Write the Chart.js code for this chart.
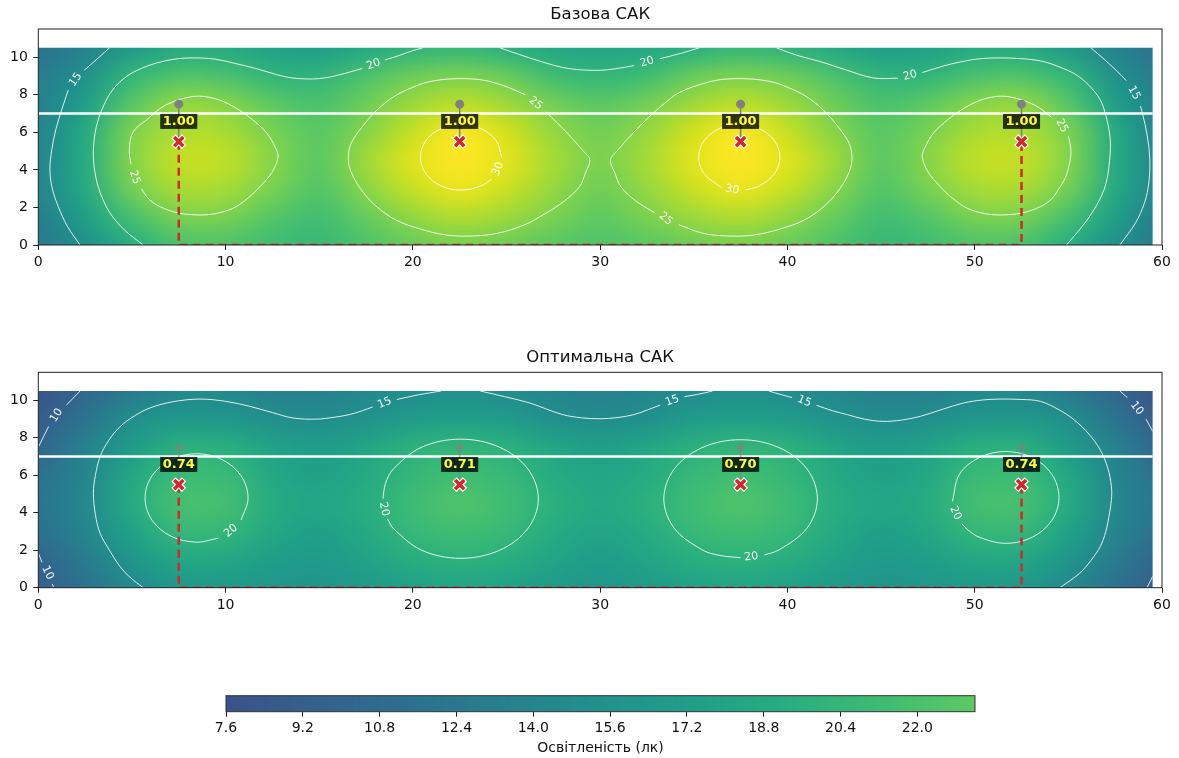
<!DOCTYPE html>
<html>
<head>
<meta charset="utf-8">
<script src="https://cdn.jsdelivr.net/npm/chart.js@4.4.1/dist/chart.umd.min.js"></script>
<style>
html, body { margin: 0; padding: 0; background: #fff; }
#wrap { position: relative; width: 1179px; height: 758px; overflow: hidden; }
canvas { position: absolute; left: 0; }
</style>
</head>
<body>
<div id="wrap">
  <canvas id="baseChart" width="1179" height="300" style="top:0"></canvas>
  <canvas id="optChart" width="1179" height="300" style="top:340px"></canvas>
  <canvas id="cbar" width="1179" height="118" style="top:640px"></canvas>
</div>
<script>
// grid of the illuminance field (lx), rows from top (y=10.5) to bottom (y=0)
var gridX = [0, 2.5, 5, 7.5, 10, 12.5, 15, 17.5, 20, 22.5, 25, 27.5, 30, 32.5, 35, 37.5, 40, 42.5, 45, 47.5, 50, 52.5, 55, 57.5, 60];
var gridY = [10.5, 9, 7.5, 6, 4.5, 3, 1.5, 0];
var fieldW = 59.5;
var fieldH = 10.5;

var baseLux = [
  [11.8, 13.6, 16.5, 18.8, 18.8, 17.6, 17.2, 18.5, 19.9, 20.6, 19.5, 18.4, 18.0, 18.4, 19.5, 20.6, 19.9, 18.5, 17.2, 17.6, 18.8, 18.8, 16.5, 13.6, 11.8],
  [12.9, 15.4, 20.5, 22.3, 22.0, 20.2, 20.1, 22.1, 24.0, 24.7, 23.8, 21.3, 20.5, 21.3, 23.8, 24.7, 24.0, 22.1, 20.1, 20.2, 22.0, 22.3, 20.5, 15.4, 12.9],
  [13.4, 17.3, 22.8, 26.0, 25.3, 23.2, 22.0, 24.0, 26.3, 27.8, 26.5, 24.3, 23.0, 24.3, 26.5, 27.8, 26.3, 24.0, 22.0, 23.2, 25.3, 26.0, 22.8, 17.3, 13.4],
  [13.6, 18.8, 24.8, 27.3, 27.0, 24.6, 22.9, 25.3, 28.3, 31.0, 28.9, 26.0, 24.2, 26.0, 28.9, 31.0, 28.3, 25.3, 22.9, 24.6, 27.0, 27.3, 24.8, 18.8, 13.6],
  [14.0, 18.9, 25.2, 28.2, 28.0, 25.4, 23.0, 26.5, 29.6, 32.5, 29.7, 26.8, 24.6, 26.8, 29.7, 32.5, 29.6, 26.5, 23.0, 25.4, 28.0, 28.2, 25.2, 18.9, 14.0],
  [13.9, 18.7, 24.3, 27.0, 26.8, 24.6, 22.5, 25.4, 28.3, 30.1, 28.5, 26.0, 24.0, 26.0, 28.5, 30.1, 28.3, 25.4, 22.5, 24.6, 26.8, 27.0, 24.3, 18.7, 13.9],
  [13.0, 17.3, 21.8, 24.6, 24.7, 22.6, 21.5, 23.6, 25.9, 27.3, 26.3, 24.7, 23.2, 24.7, 26.3, 27.3, 25.9, 23.6, 21.5, 22.6, 24.7, 24.6, 21.8, 17.3, 13.0],
  [12.6, 15.4, 19.4, 22.0, 22.3, 21.3, 20.8, 22.2, 23.7, 24.5, 24.0, 23.0, 22.3, 23.0, 24.0, 24.5, 23.7, 22.2, 20.8, 21.3, 22.3, 22.0, 19.4, 15.4, 12.6]
];

var optLux = [
  [8.0, 10.3, 12.6, 14.3, 14.4, 13.6, 13.5, 14.3, 14.8, 15.2, 14.8, 14.0, 13.6, 14.0, 14.8, 15.2, 14.8, 14.3, 13.5, 13.6, 14.4, 14.3, 12.6, 10.3, 8.0],
  [9.0, 11.7, 15.3, 16.4, 16.3, 15.3, 15.0, 15.8, 16.9, 17.4, 16.9, 15.4, 15.0, 15.4, 16.9, 17.4, 16.9, 15.8, 15.0, 15.3, 16.3, 16.4, 15.3, 11.7, 9.0],
  [10.0, 13.6, 16.8, 19.6, 19.5, 17.8, 16.9, 18.1, 19.8, 20.4, 19.7, 18.2, 17.4, 18.2, 19.7, 20.4, 19.8, 18.1, 16.9, 17.8, 19.5, 19.6, 16.8, 13.6, 10.0],
  [11.6, 14.0, 18.4, 21.0, 20.9, 18.5, 17.6, 18.7, 20.5, 21.4, 20.6, 19.0, 18.1, 19.0, 20.6, 21.4, 20.5, 18.7, 17.6, 18.5, 20.9, 21.0, 18.4, 14.0, 11.6],
  [12.0, 14.3, 19.0, 21.8, 21.6, 18.9, 18.2, 19.3, 21.2, 22.3, 21.3, 19.6, 18.6, 19.6, 21.3, 22.3, 21.2, 19.3, 18.2, 18.9, 21.6, 21.8, 19.0, 14.3, 12.0],
  [11.5, 13.9, 17.7, 20.6, 20.5, 18.4, 17.5, 18.7, 20.6, 21.4, 20.7, 19.0, 18.0, 19.0, 20.7, 21.4, 20.6, 18.7, 17.5, 18.4, 20.5, 20.6, 17.7, 13.9, 11.5],
  [9.8, 12.7, 16.0, 18.4, 18.4, 17.3, 16.7, 17.8, 19.3, 19.9, 19.4, 18.0, 17.1, 18.0, 19.4, 19.9, 19.3, 17.8, 16.7, 17.3, 18.4, 18.4, 16.0, 12.7, 9.8],
  [9.3, 11.6, 14.5, 16.4, 16.7, 16.2, 15.9, 16.6, 17.6, 18.1, 17.7, 16.8, 16.1, 16.8, 17.7, 18.1, 17.6, 16.6, 15.9, 16.2, 16.7, 16.4, 14.5, 11.6, 9.3]
];

// luminaires, sensors, cable
var lampX = [7.5, 22.5, 37.5, 52.5];
var lampY = 5.5;
var sensorY = 7.5;
var labelY = 6.58;
var lineY = 7;
var baseRatio = ['1.00', '1.00', '1.00', '1.00'];
var optRatio = ['0.74', '0.71', '0.70', '0.74'];
var cableX = [7.5, 7.5, 52.5, 52.5];
var cableY = [5.5, 0, 0, 5.5];

var xTicks = [0, 10, 20, 30, 40, 50, 60];
var yTicks = [0, 2, 4, 6, 8, 10];
var cbTicks = [7.6, 9.2, 10.8, 12.4, 14.0, 15.6, 17.2, 18.8, 20.4, 22.0];
var cbMin = 7.6;
var cbMax = 23.2;

// isolines, null = break (label or new piece)
var baseIso15 = [
  [3.8, 10.5], [3.25, 10.0], [2.45, 9.3], null,
  [1.6, 8.25], [1.25, 7.2], [0.95, 6.2], [0.72, 5.07], [0.62, 4.0], [0.75, 3.0], [1.07, 2.04], [1.55, 1.0], [2.23, 0], null,
  [56.2, 10.5], [56.9, 9.9], [57.55, 9.3], [58.1, 8.75], null,
  [58.85, 7.4], [59.1, 6.4], [59.3, 5.2], [59.35, 4.0], [59.25, 3.0], [59.05, 2.2], [58.6, 1.2], [57.75, 0]
];
var baseIso20 = [
  [5.6, 0], [4.6, 0.8], [3.83, 1.7], [3.3, 2.8], [3.03, 3.84], [2.94, 5.0], [3.1, 6.3], [3.47, 7.38], [4.0, 8.3], [4.72, 8.98],
  [5.5, 9.4], [6.32, 9.69], [7.3, 9.9], [8.28, 9.96], [9.4, 9.9], [10.41, 9.69], [11.6, 9.4], [12.73, 9.07], [13.5, 8.9],
  [14.33, 8.84], [15.0, 8.86], [15.75, 8.98], [16.6, 9.2], [17.3, 9.4], null,
  [18.5, 9.85], [19.3, 10.1], [20.0, 10.35], [20.55, 10.5], null,
  [24.65, 10.5], [25.8, 10.1], [27.1, 9.69], [28.0, 9.45], [28.9, 9.33], [30.0, 9.3], [30.8, 9.38], [31.8, 9.55], null,
  [33.2, 9.92], [34.3, 10.2], [35.3, 10.5], null,
  [39.4, 10.5], [40.5, 10.1], [41.7, 9.78], [43.1, 9.33], [44.6, 8.89], [45.9, 8.88], null,
  [47.2, 9.18], [48.4, 9.55], [49.4, 9.78], [50.3, 9.92], [51.3, 9.96], [52.5, 9.92], [53.6, 9.78], [54.6, 9.45], [55.4, 9.07],
  [56.1, 8.5], [56.7, 7.73], [57.0, 6.9], [57.2, 5.96], [57.25, 5.2], [57.2, 4.5], [57.1, 3.7], [56.9, 2.93], [56.5, 2.1],
  [56.0, 1.33], [55.5, 0.7], [54.9, 0]
];
var baseIso25 = [
  [4.95, 4.3], [4.86, 5.0], [5.05, 6.0], [5.79, 6.67], [6.8, 7.45], [8.28, 7.91], [9.4, 7.8], [10.4, 7.38], [11.4, 6.7],
  [12.2, 5.96], [12.65, 5.2], [12.8, 4.71], [12.5, 3.9], [11.84, 3.11], [11.2, 2.5], [10.41, 1.96], [9.5, 1.68], [8.63, 1.6],
  [7.5, 1.7], [6.5, 2.04], [5.9, 2.45], [5.5, 3.0], null,
  [27.1, 7.1], [28.3, 5.9], [29.1, 5.0], [29.45, 4.53], [29.2, 3.8], [28.9, 3.11], [28.1, 2.35], [27.1, 1.69], [25.9, 1.05],
  [24.5, 0.62], [23.2, 0.48], [21.8, 0.53], [20.4, 0.85], [19.1, 1.33], [18.0, 2.1], [17.2, 3.0], [16.7, 3.9], [16.55, 4.6],
  [16.7, 5.4], [17.3, 6.3], [18.1, 7.2], [19.0, 7.91], [20.0, 8.4], [20.9, 8.7], [22.2, 8.85], [23.6, 8.8], [24.8, 8.5], [26.0, 8.0], null,
  [34.2, 1.08], [35.5, 0.62], [36.8, 0.48], [38.2, 0.53], [39.6, 0.85], [40.9, 1.33], [42.0, 2.1], [42.8, 3.0], [43.3, 3.9],
  [43.45, 4.6], [43.3, 5.4], [42.7, 6.3], [41.9, 7.2], [41.0, 7.91], [40.0, 8.4], [39.1, 8.7], [37.8, 8.85], [36.4, 8.8],
  [35.2, 8.5], [34.1, 8.05], [33.45, 7.55], [32.8, 7.0], [31.7, 5.9], [30.9, 5.0], [30.55, 4.53], [30.8, 3.8], [31.1, 3.11],
  [31.9, 2.35], [32.9, 1.72], null,
  [54.1, 6.8], [53.2, 7.45], [51.72, 7.91], [50.6, 7.8], [49.6, 7.38], [48.6, 6.7], [47.8, 5.96], [47.35, 5.2], [47.2, 4.71],
  [47.5, 3.9], [48.16, 3.11], [48.8, 2.5], [49.59, 1.96], [50.5, 1.68], [51.37, 1.6], [52.5, 1.7], [53.5, 2.04], [54.1, 2.45],
  [54.5, 3.0], [54.85, 3.6], [55.05, 4.3], [55.14, 5.0], [55.0, 5.8]
];
var baseIso30 = [
  [24.74, 4.67], [24.45, 5.55], [23.65, 6.19], [22.57, 6.42], [21.49, 6.19], [20.69, 5.55], [20.4, 4.67], [20.69, 3.8],
  [21.49, 3.15], [22.57, 2.92], [23.65, 3.15], [24.2, 3.5], null,
  [37.75, 2.93], [38.51, 3.15], [39.31, 3.8], [39.6, 4.67], [39.31, 5.55], [38.51, 6.19], [37.43, 6.42], [36.35, 6.19],
  [35.55, 5.55], [35.26, 4.67], [35.55, 3.8], [36.35, 3.15], [36.5, 3.08]
];
// x, y, angle (deg), text
var baseIsoLabels = [
  [2.0, 8.8, -55, '15'], [17.9, 9.62, -20, '20'], [32.5, 9.74, -15, '20'], [46.55, 9.02, -14, '20'], [58.5, 8.1, 62, '15'],
  [5.15, 3.6, 72, '25'], [26.55, 7.55, 40, '25'], [33.5, 1.4, 40, '25'], [54.65, 6.35, 62, '25'],
  [24.55, 4.05, -68, '30'], [37.05, 2.95, 10, '30']
];

var optIso10 = [
  [2.23, 10.5], [1.5, 9.75], null, [0.55, 8.6], [0.0, 7.5], null,
  [0, 1.85], [0.2, 1.35], null, [0.75, 0.2], [0.82, 0], null,
  [57.75, 10.5], [58.15, 10.15], null, [59.15, 9.0], [59.5, 8.35], null,
  [59.2, 0], [59.5, 0.6]
];
var optIso15 = [
  [5.6, 0], [4.9, 0.55], [4.37, 1.12], [3.8, 2.0], [3.3, 2.9], [3.05, 3.9], [2.94, 5.05], [3.05, 6.0], [3.3, 7.0], [3.75, 7.85],
  [4.37, 8.6], [5.1, 9.15], [5.97, 9.6], [7.2, 9.93], [8.63, 10.07], [10.0, 9.95], [11.3, 9.68], [12.5, 9.35], [13.6, 9.06],
  [14.86, 9.0], [15.8, 9.1], [16.6, 9.24], [17.3, 9.45], [17.85, 9.65], null,
  [19.15, 10.05], [20.3, 10.3], [21.5, 10.5], null,
  [23.6, 10.5], [24.9, 10.2], [26.25, 9.86], [27.1, 9.55], [28.0, 9.24], [29.0, 9.07], [30.0, 9.02], [30.9, 9.08], [31.8, 9.24],
  [32.55, 9.5], [33.2, 9.75], null,
  [34.5, 10.2], [35.2, 10.32], [36.0, 10.5], null,
  [39.0, 10.5], [39.7, 10.3], [40.25, 10.15], null,
  [41.55, 9.74], [42.4, 9.45], [43.2, 9.24], [44.1, 9.0], [45.1, 8.88], [46.1, 8.95], [47.1, 9.15], [48.2, 9.5], [49.4, 9.86],
  [50.4, 10.02], [51.35, 10.07], [52.5, 10.05], [53.5, 9.95], [54.5, 9.5], [55.3, 8.97], [56.1, 8.2], [56.7, 7.36], [57.1, 6.4],
  [57.3, 5.4], [57.3, 4.7], [57.2, 4.0], [57.0, 3.0], [56.7, 2.19], [56.2, 1.45], [55.6, 0.77], [54.55, 0]
];
var optIso20 = [
  [10.83, 3.61], [11.2, 4.79], [10.83, 5.97], [9.83, 6.83], [8.45, 7.15], [7.08, 6.83], [6.07, 5.97], [5.7, 4.79], [6.07, 3.61],
  [7.08, 2.75], [8.45, 2.43], [9.61, 2.65], null,
  [18.65, 3.66], [18.96, 3.16], [20.47, 2.0], [22.55, 1.57], [24.63, 2.0], [26.14, 3.16], [26.7, 4.75], [26.14, 6.34],
  [24.63, 7.5], [22.55, 7.93], [20.47, 7.5], [18.96, 6.34], [18.54, 5.57], [18.4, 4.75], null,
  [38.77, 1.75], [39.55, 2.02], [41.05, 3.18], [41.6, 4.75], [41.05, 6.33], [39.55, 7.48], [37.5, 7.9], [35.45, 7.48],
  [33.95, 6.33], [33.4, 4.75], [33.95, 3.18], [35.45, 2.02], [36.4, 1.72], [37.5, 1.6], null,
  [49.32, 3.41], [49.63, 3.09], [50.23, 2.7], [51.65, 2.37], [53.08, 2.7], [54.12, 3.6], [54.5, 4.82], [54.12, 6.05],
  [53.08, 6.94], [51.65, 7.27], [50.23, 6.94], [49.18, 6.05], [48.81, 4.61]
];
var optIsoLabels = [
  [0.98, 9.2, -58, '10'], [0.5, 0.8, 65, '10'], [58.65, 9.58, 52, '10'],
  [18.5, 9.86, -22, '15'], [33.85, 9.98, -20, '15'], [40.9, 9.95, 22, '15'],
  [10.29, 3.04, -40, '20'], [18.46, 4.2, 78, '20'], [38.07, 1.65, -8, '20'], [48.97, 3.98, 65, '20']
];

// colour map (viridis) and its normalisation
var viridis = ['#440154', '#48186a', '#472d7b', '#424086', '#3b528b', '#33638d', '#2c728e', '#26828e', '#21918c',
  '#1fa088', '#28ae80', '#3fbc73', '#5ec962', '#84d44b', '#addc30', '#d8e219', '#fde725'];
var luxMin = 0;
var luxMax = 31;

function hexRgb(h) {
  return [parseInt(h.substr(1, 2), 16), parseInt(h.substr(3, 2), 16), parseInt(h.substr(5, 2), 16)];
}
function luxColor(v) {
  var t = (v - luxMin) / (luxMax - luxMin);
  t = Math.max(0, Math.min(1, t)) * (viridis.length - 1);
  var i = Math.min(Math.floor(t), viridis.length - 2);
  var f = t - i;
  var a = hexRgb(viridis[i]), b = hexRgb(viridis[i + 1]);
  return [Math.round(a[0] + (b[0] - a[0]) * f), Math.round(a[1] + (b[1] - a[1]) * f), Math.round(a[2] + (b[2] - a[2]) * f)];
}

function toPts(list) {
  return list.map(function (p) { return p ? {x: p[0], y: p[1]} : {x: null, y: null}; });
}

Chart.defaults.font.family = '"DejaVu Sans", sans-serif';
Chart.defaults.font.size = 14;
Chart.defaults.color = '#111';

var fieldPlugin = {
  id: 'field',
  beforeDatasetsDraw: function (chart) {
    var o = chart.options.plugins.field;
    var xs = chart.scales.x, ys = chart.scales.y, ctx = chart.ctx;
    var nx = gridX.length, ny = gridY.length;
    var off = document.createElement('canvas');
    off.width = nx;
    off.height = ny;
    var octx = off.getContext('2d');
    var img = octx.createImageData(nx, ny);
    for (var j = 0; j < ny; j++) {
      for (var i = 0; i < nx; i++) {
        var c = luxColor(o.lux[j][i]);
        var k = (j * nx + i) * 4;
        img.data[k] = c[0]; img.data[k + 1] = c[1]; img.data[k + 2] = c[2]; img.data[k + 3] = 255;
      }
    }
    octx.putImageData(img, 0, 0);
    var hx = (gridX[1] - gridX[0]) / 2, hy = (gridY[0] - gridY[1]) / 2;
    var x0 = xs.getPixelForValue(gridX[0] - hx), x1 = xs.getPixelForValue(gridX[nx - 1] + hx);
    var y0 = ys.getPixelForValue(gridY[0] + hy), y1 = ys.getPixelForValue(gridY[ny - 1] - hy);
    var cx0 = xs.getPixelForValue(0), cx1 = xs.getPixelForValue(fieldW);
    var cy0 = ys.getPixelForValue(fieldH), cy1 = ys.getPixelForValue(0);
    ctx.save();
    ctx.beginPath();
    ctx.rect(cx0, cy0, cx1 - cx0, cy1 - cy0);
    ctx.clip();
    ctx.imageSmoothingEnabled = true;
    ctx.imageSmoothingQuality = 'high';
    ctx.drawImage(off, x0, y0, x1 - x0, y1 - y0);
    ctx.restore();
  },
  afterDatasetsDraw: function (chart) {
    var o = chart.options.plugins.field;
    var xs = chart.scales.x, ys = chart.scales.y, ctx = chart.ctx;
    ctx.save();
    ctx.textAlign = 'center';
    ctx.textBaseline = 'middle';
    // isoline labels
    ctx.font = '11px "DejaVu Sans"';
    ctx.fillStyle = 'rgba(255,255,255,0.95)';
    o.isoLabels.forEach(function (l) {
      ctx.save();
      ctx.translate(xs.getPixelForValue(l[0]), ys.getPixelForValue(l[1]));
      ctx.rotate(l[2] * Math.PI / 180);
      ctx.fillText(l[3], 0, 0);
      ctx.restore();
    });
    // ratio boxes
    ctx.font = 'bold 13px "DejaVu Sans"';
    lampX.forEach(function (x, i) {
      var t = o.ratios[i];
      var w = ctx.measureText(t).width + 5, h = 15;
      var px = xs.getPixelForValue(x), py = ys.getPixelForValue(labelY);
      ctx.fillStyle = 'rgba(0,0,0,0.78)';
      ctx.fillRect(px - w / 2, py - h / 2, w, h);
      ctx.fillStyle = '#ffff2e';
      ctx.fillText(t, px, py + 0.5);
    });
    ctx.restore();
  },
  afterDraw: function (chart) {
    var o = chart.options.plugins.field;
    var a = chart.chartArea, ctx = chart.ctx;
    ctx.save();
    ctx.strokeStyle = '#222';
    ctx.lineWidth = 1;
    ctx.strokeRect(a.left, a.top, a.right - a.left, a.bottom - a.top);
    ctx.font = '16.5px "DejaVu Sans"';
    ctx.fillStyle = '#111';
    ctx.textAlign = 'center';
    ctx.textBaseline = 'middle';
    ctx.fillText(o.title, (a.left + a.right) / 2, a.top - 14.5);
    ctx.restore();
  }
};

function makePanel(id, cfg) {
  var ds = [];
  cfg.iso.forEach(function (line) {
    ds.push({data: toPts(line), showLine: true, borderColor: 'rgba(255,255,255,0.85)', borderWidth: 1,
      pointRadius: 0, tension: 0.35, spanGaps: false});
  });
  ds.push({data: [{x: 0, y: lineY}, {x: fieldW, y: lineY}], showLine: true, borderColor: '#ffffff', borderWidth: 2.5, pointRadius: 0});
  ds.push({data: cableX.map(function (x, i) { return {x: x, y: cableY[i]}; }), showLine: true,
    borderColor: '#d62728', borderWidth: 2.5, borderDash: [8, 5], pointRadius: 0});
  var stems = [];
  lampX.forEach(function (x) { stems.push({x: x, y: sensorY}, {x: x, y: lampY}, {x: null, y: null}); });
  ds.push({data: stems, showLine: true, borderColor: cfg.stemColor, borderWidth: 1.5, pointRadius: 0, spanGaps: false});
  ds.push({data: lampX.map(function (x) { return {x: x, y: sensorY}; }), pointRadius: cfg.dotRadius,
    pointBackgroundColor: cfg.stemColor, pointBorderWidth: 0});
  ds.push({data: lampX.map(function (x) { return {x: x, y: lampY}; }), pointStyle: 'crossRot', pointRadius: 7.5,
    pointBorderColor: '#ffffff', pointBorderWidth: 6});
  ds.push({data: lampX.map(function (x) { return {x: x, y: lampY}; }), pointStyle: 'crossRot', pointRadius: 6.5,
    pointBorderColor: '#d62728', pointBorderWidth: 3.5});
  ds.forEach(function (d, i) { d.order = ds.length - i; });

  return new Chart(document.getElementById(id), {
    type: 'scatter',
    data: {datasets: ds},
    options: {
      responsive: false,
      animation: false,
      devicePixelRatio: 1,
      events: [],
      layout: {padding: {left: 0, right: 17, top: cfg.top, bottom: 0}},
      plugins: {
        legend: {display: false},
        tooltip: {enabled: false},
        field: {lux: cfg.lux, isoLabels: cfg.isoLabels, ratios: cfg.ratios, title: cfg.title}
      },
      scales: {
        x: {
          type: 'linear', min: 0, max: 60,
          afterBuildTicks: function (axis) { axis.ticks = xTicks.map(function (v) { return {value: v}; }); },
          afterFit: function (axis) { axis.height = cfg.xAxisH; },
          grid: {drawOnChartArea: false, tickLength: 5, color: '#222'},
          border: {display: false},
          ticks: {padding: 4, maxRotation: 0, color: '#111'}
        },
        y: {
          type: 'linear', min: 0, max: 11.5,
          afterBuildTicks: function (axis) { axis.ticks = yTicks.map(function (v) { return {value: v}; }); },
          afterFit: function (axis) { axis.width = 38.3; },
          grid: {drawOnChartArea: false, tickLength: 5, color: '#222'},
          border: {display: false},
          ticks: {padding: 5.5, color: '#111'}
        }
      }
    },
    plugins: [fieldPlugin]
  });
}

makePanel('baseChart', {
  title: 'Базова САК', lux: baseLux, iso: [baseIso15, baseIso20, baseIso25, baseIso30], isoLabels: baseIsoLabels,
  ratios: baseRatio, top: 29, xAxisH: 55, stemColor: '#808080', dotRadius: 4.5
});
makePanel('optChart', {
  title: 'Оптимальна САК', lux: optLux, iso: [optIso10, optIso15, optIso20], isoLabels: optIsoLabels,
  ratios: optRatio, top: 32.3, xAxisH: 52.3, stemColor: 'rgba(128,128,128,0.6)', dotRadius: 3.8
});

// colour bar
var cbarPlugin = {
  id: 'cbarFill',
  beforeDatasetsDraw: function (chart) {
    var xs = chart.scales.x, a = chart.chartArea, ctx = chart.ctx;
    ctx.save();
    for (var px = Math.floor(a.left); px < a.right; px++) {
      var c = luxColor(xs.getValueForPixel(px + 0.5));
      ctx.fillStyle = 'rgb(' + c[0] + ',' + c[1] + ',' + c[2] + ')';
      ctx.fillRect(px, a.top, 1, a.bottom - a.top);
    }
    ctx.strokeStyle = '#333';
    ctx.lineWidth = 1;
    ctx.strokeRect(a.left, a.top, a.right - a.left, a.bottom - a.top);
    ctx.restore();
  }
};

new Chart(document.getElementById('cbar'), {
  type: 'scatter',
  data: {datasets: []},
  options: {
    responsive: false,
    animation: false,
    devicePixelRatio: 1,
    events: [],
    layout: {padding: {left: 226, right: 204, top: 55.7, bottom: 0}},
    plugins: {legend: {display: false}, tooltip: {enabled: false}},
    scales: {
      x: {
        type: 'linear', min: cbMin, max: cbMax,
        afterBuildTicks: function (axis) { axis.ticks = cbTicks.map(function (v) { return {value: v}; }); },
        afterFit: function (axis) { axis.height = 46.3; },
        grid: {drawOnChartArea: false, tickLength: 5, color: '#222'},
        border: {display: false},
        ticks: {padding: 3, maxRotation: 0, color: '#111', callback: function (v) { return v.toFixed(1); }},
        title: {display: true, text: 'Освітленість (лк)', color: '#111', font: {size: 14}, padding: {top: 0, bottom: 1.6}}
      },
      y: {display: false, min: 0, max: 1}
    }
  },
  plugins: [cbarPlugin]
});
</script>
</body>
</html>
